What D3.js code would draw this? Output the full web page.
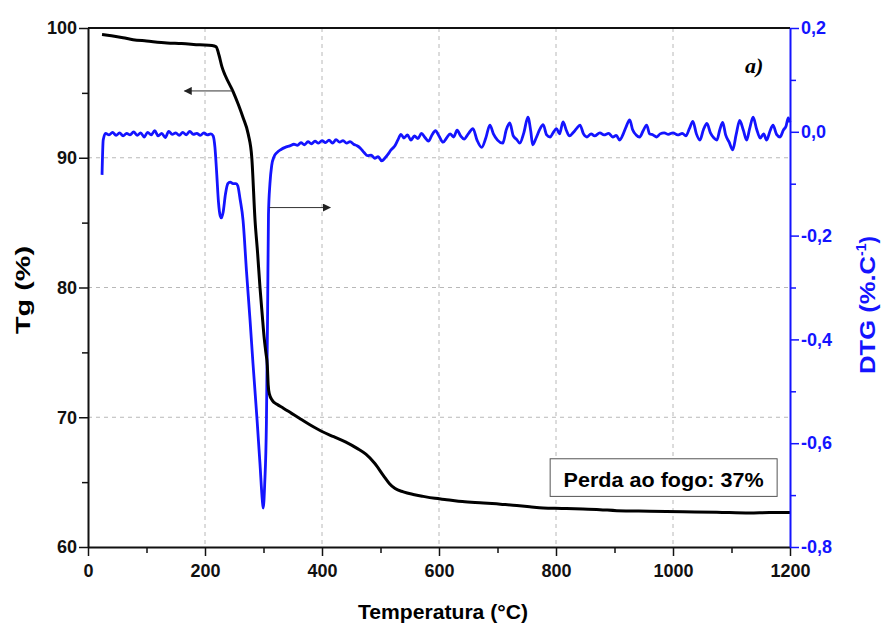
<!DOCTYPE html>
<html><head><meta charset="utf-8">
<script src="https://cdn.jsdelivr.net/npm/d3@7"></script>
<style>body{margin:0;background:#fff}svg{display:block}text{font-family:"Liberation Sans",Arial,sans-serif;font-weight:bold}</style>
</head><body>
<svg id="c" width="882" height="626"></svg>
<script>
// ---- data ----
const xTicks = [0,200,400,600,800,1000,1200];
const tgTicks = [60,70,80,90,100];
const dtgTicks = [0.2,0.0,-0.2,-0.4,-0.6,-0.8];

const tgTemp  = [24,40,60,77,100,135,160,191,212,219,224,229,235,248,257,265,274,280,285.5,290,294,298,301,304,306.5,308,310,315,323,334,348,362,380,400,420,440,460,475,490,505,515,525,539,556,573,593,613,640,676,705,733,755,778,810,846,875,904,960,1017,1075,1131,1165,1200];
const tgValue = [99.5,99.4,99.25,99.1,99.0,98.85,98.8,98.7,98.65,98.55,97.9,97.0,96.3,95.1,94.1,93.1,91.8,90.0,85.2,82.6,80.0,77.8,76.2,75.0,74.0,72.5,71.8,71.3,71.0,70.7,70.3,69.9,69.4,68.9,68.5,68.1,67.6,67.15,66.45,65.5,64.9,64.5,64.25,64.05,63.9,63.75,63.65,63.5,63.4,63.3,63.2,63.1,63.0,62.97,62.93,62.88,62.8,62.76,62.72,62.68,62.62,62.65,62.65];

const dtgTemp  = [24,26,30,36,42,48,54,60,66,72,78,84,90,96,102,108,114,120,126,132,138,144,150,156,162,168,174,180,186,192,198,204,210,214,
  217,220,223,226,228,231,235,239,243,248,253,256,260,265,271,277,282,289,294,298,299.5,302,305,307,308.5,311,314,318,323,330,337,345,352,358,364,370,376,382,388,394,400,406,412,418,424,430,436,442,448,454,460,466,472,478,484,490,496,502,508,513,518,524,530,535,540,546,552,558,564,570,576,582,588,594,600,607,613,619,625,631,637,643,650,658,665,673,680,687,693,700,709,715,721,727,733,738,745,752,757,760,766,772,778,784,790,795,801,806,812,818,823,829,835,841,847,853,860,866,875,882,890,897,903,909,915,920,926,931,937,943,949,955,960,966,972,978,985,992,1000,1008,1016,1022,1028,1034,1040,1046,1052,1058,1064,1070,1075,1080,1085,1090,1096,1102,1108,1114,1120,1126,1131,1137,1143,1149,1155,1160,1166,1171,1177,1183,1189,1193,1197,1200];
const dtgValue = [-0.083,-0.016,-0.003,-0.006,-0.001,-0.007,-0.002,-0.008,-0.003,-0.006,0.000,-0.007,-0.002,-0.010,-0.001,-0.006,0.002,-0.008,-0.003,-0.011,0.001,-0.005,-0.002,-0.007,-0.001,-0.006,0.001,-0.005,-0.003,-0.007,-0.002,-0.006,-0.004,-0.008,
  -0.03,-0.08,-0.135,-0.162,-0.166,-0.155,-0.12,-0.1,-0.097,-0.1,-0.1,-0.104,-0.13,-0.17,-0.27,-0.363,-0.446,-0.555,-0.64,-0.71,-0.725,-0.68,-0.56,-0.35,-0.16,-0.10,-0.065,-0.048,-0.04,-0.034,-0.03,-0.027,-0.024,-0.026,-0.021,-0.025,-0.019,-0.023,-0.018,-0.022,-0.017,-0.021,-0.016,-0.022,-0.015,-0.02,-0.017,-0.022,-0.019,-0.024,-0.027,-0.032,-0.04,-0.046,-0.045,-0.051,-0.048,-0.056,-0.05,-0.043,-0.035,-0.028,-0.015,-0.005,-0.012,-0.006,-0.016,-0.008,-0.013,-0.003,-0.011,-0.018,-0.006,0.002,-0.008,-0.02,-0.012,-0.004,-0.01,0.003,-0.008,-0.014,-0.004,0.006,-0.016,-0.03,-0.012,0.013,-0.004,-0.016,-0.022,0.004,0.017,-0.008,-0.015,-0.022,-0.002,0.028,0.0,-0.025,-0.012,0.004,0.014,-0.006,-0.01,-0.002,0.006,-0.004,0.019,0.002,-0.008,-0.002,0.006,0.013,-0.004,-0.01,-0.004,-0.008,-0.002,-0.006,-0.003,-0.01,-0.007,-0.016,-0.004,0.01,0.023,0.004,-0.006,-0.01,0.002,0.013,-0.004,-0.006,-0.01,-0.004,-0.002,-0.005,-0.002,-0.006,-0.003,-0.008,0.006,0.02,-0.004,-0.016,0.004,0.016,-0.002,-0.012,-0.016,0.004,0.018,-0.006,-0.02,-0.035,-0.005,0.022,0.004,-0.016,0.006,0.028,0.005,-0.012,-0.004,-0.016,0.002,0.013,-0.005,-0.01,0.004,0.01,0.027,0.018];

// ---- layout ----
const L=88, R=790, T=28, B=547;
const svg = d3.select("#c");
const x = d3.scaleLinear().domain([0,1200]).range([L,R]);
const yL = d3.scaleLinear().domain([60,100]).range([B,T]);
const yR = d3.scaleLinear().domain([-0.8,0.2]).range([B,T]);
const blue = "#1414ff";

// grid
const g = svg.append("g").attr("stroke","#b8b8b8").attr("stroke-width",1).attr("stroke-dasharray","4,4");
xTicks.slice(1,-1).forEach(t=>g.append("line").attr("x1",x(t)).attr("x2",x(t)).attr("y1",T).attr("y2",B));
tgTicks.slice(1,-1).forEach(t=>g.append("line").attr("x1",L).attr("x2",R).attr("y1",yL(t)).attr("y2",yL(t)));

// top frame
svg.append("line").attr("x1",L).attr("x2",R).attr("y1",T).attr("y2",T).attr("stroke","#111").attr("stroke-width",2);

// curves
const tgData = tgTemp.map((t,i)=>[t,tgValue[i]]);
const dtgData = dtgTemp.map((t,i)=>[t,dtgValue[i]]);
svg.append("path").datum(dtgData).attr("fill","none").attr("stroke",blue).attr("stroke-width",2.8).attr("stroke-linejoin","round")
  .attr("d",d3.line().curve(d3.curveMonotoneX).x(d=>x(d[0])).y(d=>yR(d[1])));
svg.append("path").datum(tgData).attr("fill","none").attr("stroke","#000").attr("stroke-width",3).attr("stroke-linejoin","round")
  .attr("d",d3.line().curve(d3.curveMonotoneX).x(d=>x(d[0])).y(d=>yL(d[1])));

// axes
const fmtR = d=>d3.format(".1f")(d).replace(".",",").replace("−","-");
function styleAxis(sel,color){
  sel.select(".domain").attr("stroke",color).attr("stroke-width",2);
  sel.selectAll(".tick line").attr("stroke",color).attr("stroke-width",1.5);
  sel.selectAll(".tick text").attr("fill",color).style("font-size","18px").style("font-family","'Liberation Sans',Arial,sans-serif").style("font-weight","bold");
}
const ax = svg.append("g").attr("transform",`translate(0,${B})`);
ax.call(d3.axisBottom(x).tickValues(d3.range(100,1200,200)).tickSize(6).tickFormat("").tickSizeOuter(0));
ax.call(g=>g.select(".domain").remove());
ax.selectAll("line").attr("stroke","#111").attr("stroke-width",1.5);
const axM = svg.append("g").attr("transform",`translate(0,${B})`)
  .call(d3.axisBottom(x).tickValues(xTicks).tickFormat(d3.format("d")).tickSize(9).tickPadding(8).tickSizeOuter(0));
styleAxis(axM,"#111");

const ayMin = svg.append("g").attr("transform",`translate(${L},0)`)
  .call(d3.axisLeft(yL).tickValues([65,75,85,95]).tickSize(6).tickFormat("").tickSizeOuter(0));
ayMin.select(".domain").remove(); ayMin.selectAll("line").attr("stroke","#111").attr("stroke-width",1.5);
const ay = svg.append("g").attr("transform",`translate(${L},0)`)
  .call(d3.axisLeft(yL).tickValues(tgTicks).tickSize(9).tickPadding(2).tickSizeOuter(0));
styleAxis(ay,"#111");

const arMin = svg.append("g").attr("transform",`translate(${R},0)`)
  .call(d3.axisRight(yR).tickValues([0.1,-0.1,-0.3,-0.5,-0.7]).tickSize(6).tickFormat("").tickSizeOuter(0));
arMin.select(".domain").remove(); arMin.selectAll("line").attr("stroke",blue).attr("stroke-width",1.5);
const ar = svg.append("g").attr("transform",`translate(${R},0)`)
  .call(d3.axisRight(yR).tickValues(dtgTicks).tickSize(9).tickPadding(2).tickFormat(fmtR).tickSizeOuter(0));
styleAxis(ar,blue);

// titles
svg.append("text").attr("x",443).attr("y",619).attr("text-anchor","middle").style("font-size","21px")
  .attr("textLength",170).attr("lengthAdjust","spacingAndGlyphs").text("Temperatura (°C)");
svg.append("text").attr("transform","translate(30,290) rotate(-90)").attr("text-anchor","middle").style("font-size","21px")
  .attr("textLength",88).attr("lengthAdjust","spacingAndGlyphs").text("Tg (%)");
const rt = svg.append("text").attr("transform","translate(875,305) rotate(-90)").attr("text-anchor","middle").attr("fill",blue).style("font-size","22px");
rt.append("tspan").attr("textLength",118).attr("lengthAdjust","spacingAndGlyphs").text("DTG (%.C");
rt.append("tspan").attr("dy",-9).style("font-size","14px").text("-1");
rt.append("tspan").attr("dy",9).text(")");

// a)
svg.append("text").attr("x",745).attr("y",73).style("font-family","'Liberation Serif','Times New Roman',serif").style("font-style","italic").style("font-size","22px").text("a)");

// arrows
const defs = svg.append("defs");
defs.append("marker").attr("id","ah").attr("viewBox","0 0 10 10").attr("refX",9).attr("refY",5).attr("markerWidth",10).attr("markerHeight",8).attr("markerUnits","userSpaceOnUse").attr("orient","auto")
  .append("path").attr("d","M0,0 L10,5 L0,10 Z").attr("fill","#222");
svg.append("line").attr("x1",x(246)).attr("x2",x(165)).attr("y1",yL(95.15)).attr("y2",yL(95.15)).attr("stroke","#333").attr("stroke-width",1).attr("marker-end","url(#ah)");
svg.append("line").attr("x1",x(310)).attr("x2",x(414)).attr("y1",yR(-0.146)).attr("y2",yR(-0.146)).attr("stroke","#333").attr("stroke-width",1).attr("marker-end","url(#ah)");

// annotation box
svg.append("rect").attr("x",x(790)).attr("y",yL(66.8)).attr("width",x(1178)-x(790)).attr("height",yL(63.9)-yL(66.8)).attr("fill","#fff").attr("stroke","#555").attr("stroke-width",1);
svg.append("text").attr("x",(x(790)+x(1178))/2).attr("y",yL(64.65)).attr("text-anchor","middle").style("font-size","20px")
  .attr("textLength",200).attr("lengthAdjust","spacingAndGlyphs").text("Perda ao fogo: 37%");
</script>
</body></html>
